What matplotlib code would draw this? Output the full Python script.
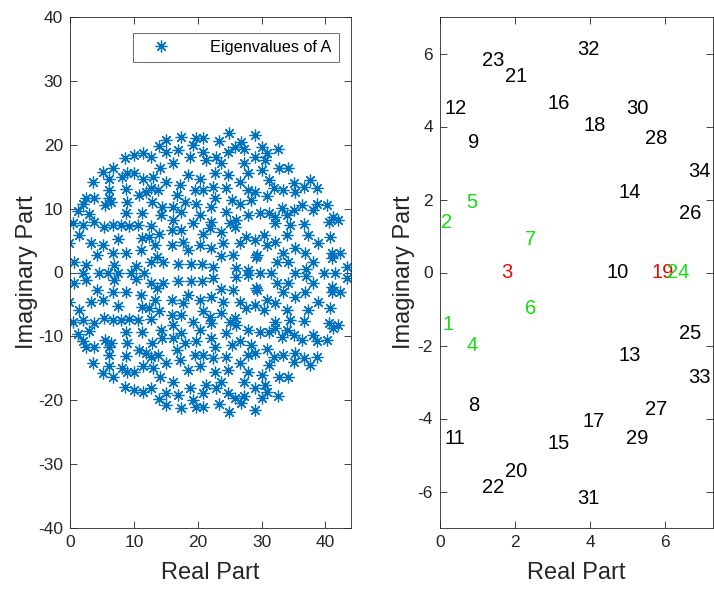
import numpy as np
import matplotlib
matplotlib.use("Agg")
import matplotlib.pyplot as plt

plt.rcParams['font.family'] = ['Liberation Sans', 'DejaVu Sans']
plt.rcParams['axes.unicode_minus'] = False

# eigenvalues of A, upper half plane; A is real so the
# lower half is the complex conjugate of these
eig_re_up = [13.9, 15.0, 8.65, 10.05, 11.45, 12.65, 5.1, 6.7, 9.0, 10.05,
             6.15, 8.2, 11.45, 13.0, 14.1, 3.55, 6.15, 8.75, 11.9, 12.65,
             13.85, 10.8, 6.05, 2.5, 3.8, 2.0, 5.5, 6.4, 9.0, 8.75,
             11.35, 12.9, 14.4, 1.2, 3.0, 14.2,
             0.4, 2.0, 3.8, 5.35, 6.7, 8.0, 9.3, 10.6, 12.65, 13.95,
             1.45, -0.1, 3.3, 5.1, 7.45, 11.35, 12.4, 13.3, 4.3, 6.7,
             8.75, 11.1, 0.7, 2.5, 6.9, 12.65, 13.7, 10.4,
             17.45, 19.8, 20.8, 24.9, 23.4, 26.8, 15.1, 16.9, 18.75, 19.3,
             20.8, 22.9, 24.7, 25.8, 27.3, 28.9, 16.15, 21.35, 23.7, 27.3,
             27.9, 15.1, 18.5, 20.3, 22.65, 24.7, 26.6, 17.2, 19.5, 20.8,
             22.4, 24.5, 27.9, 16.7, 22.65, 25.3, 26.6, 28.4, 16.15, 18.0,
             19.8, 22.1, 17.45, 20.3, 24.5, 27.9, 16.15, 22.1, 26.0,
             19.3, 25.0, 15.9, 17.45, 20.8, 21.9, 23.7, 25.8, 27.6, 15.9,
             17.7, 20.3, 22.1, 23.95, 26.6, 18.5, 23.7, 25.5, 14.6, 16.9,
             19.0, 20.6, 22.4, 26.0, 27.9, 29.2,
             29.0, 30.05, 30.8, 32.5, 30.6, 30.05, 32.65, 34.2, 31.1, 35.0,
             37.6, 29.0, 31.9, 33.4, 36.6, 38.6, 30.8, 35.3, 36.3, 38.6,
             40.2, 33.2, 35.0, 38.1, 29.8, 31.1, 32.1, 33.95, 41.25, 42.0,
             36.6, 40.5,
             32.1, 34.5, 37.3, 40.7, 30.3, 33.95, 29.0, 30.8, 32.1, 35.3,
             38.9, 33.4, 36.8, 41.0, 42.3, 29.3, 32.4, 34.2, 38.1, 41.0,
             37.0, 43.3]
eig_im_up = [19.8, 20.7, 18.0, 18.4, 18.65, 18.1, 15.8, 16.4, 15.5, 15.5,
             14.6, 14.9, 14.6, 15.0, 16.3, 14.1, 12.9, 13.1, 12.65, 13.2,
             12.9, 12.1, 11.6, 11.6, 11.7, 10.8, 10.6, 11.1, 11.1, 9.3,
             9.3, 11.0, 10.3, 9.6, 9.1, 9.0,
             7.7, 7.4, 7.95, 7.2, 7.4, 7.4, 7.3, 7.4, 7.3, 6.1,
             5.9, 4.6, 4.6, 4.3, 5.2, 5.35, 5.6, 4.3, 2.7, 3.0,
             3.0, 3.5, 1.7, 1.2, 1.2, 1.7, 2.5, 1.0,
             21.25, 21.0, 21.1, 21.8, 20.6, 20.5, 18.9, 19.2, 18.1, 20.0,
             18.9, 18.1, 18.9, 19.7, 19.4, 18.1, 17.1, 17.6, 17.2, 17.1,
             15.5, 14.2, 15.3, 14.7, 15.5, 15.3, 14.2, 13.7, 12.9, 12.9,
             13.4, 13.2, 12.9, 12.1, 11.6, 11.3, 10.8, 11.3, 10.3, 11.1,
             10.8, 10.3, 9.5, 9.0, 9.5, 9.0, 8.2, 7.95, 8.2,
             7.7, 7.7, 6.65, 6.65, 6.1, 6.9, 6.4, 7.2, 5.6, 4.3,
             4.8, 4.3, 3.8, 4.6, 4.6, 3.5, 2.6, 2.7, 1.7, 1.4,
             1.4, 1.4, 0.9, 0.65, 0.4, 2.5,
             21.5, 19.7, 18.65, 19.3, 17.6, 16.0, 16.3, 16.3, 14.5, 14.0,
             14.5, 12.65, 13.2, 12.9, 13.4, 13.2, 11.9, 12.65, 10.6, 10.8,
             10.6, 10.1, 9.8, 9.8, 9.3, 9.3, 8.7, 9.0, 8.7, 8.2,
             7.6, 7.95,
             7.7, 7.4, 5.9, 5.6, 5.9, 5.9, 5.1, 4.3, 4.7, 3.8,
             4.6, 3.0, 3.0, 3.0, 3.0, 2.7, 1.7, 1.7, 1.7, 2.2,
             0.5, 0.9]
# real eigenvalues
eig_real = [2.0, 4.6, 5.9, 7.45, 9.5, 11.6, 29.8, 31.4, 35.3, 39.7, 41.5]

# right panel: numbered eigenvalues
num_re = [0.07, 0.04, 1.64, 0.71, 0.71, 2.27, 2.27, 0.74, 0.74, 4.43,
          0.13, 0.13, 4.76, 4.77, 2.86, 2.86, 3.80, 3.82, 5.65, 1.73,
          1.73, 1.13, 1.13, 6.05, 6.37, 6.36, 5.47, 5.47, 4.95, 4.96,
          3.66, 3.67, 6.62, 6.62]
num_im = [-1.42, 1.38, 0.0, -2.0, 1.91, -0.99, 0.90, -3.64, 3.57, 0.0,
          -4.56, 4.48, -2.27, 2.18, -4.69, 4.62, -4.09, 4.03, 0.0, -5.44,
          5.38, -5.90, 5.82, 0.0, -1.68, 1.61, -3.75, 3.66, -4.56, 4.48,
          -6.20, 6.11, -2.89, 2.78]
green_ids = [1, 2, 4, 5, 6, 7, 24]
red_ids = [3, 19]

re = np.concatenate([eig_re_up, eig_re_up, eig_real])
im = np.concatenate([eig_im_up, -np.array(eig_im_up), np.zeros(len(eig_real))])

blue = '#0072BD'
axcol = '#262626'

fig = plt.figure(figsize=(7.14, 5.89), dpi=100)
ax1 = fig.add_axes([70/714, 61/589, 281/714, 511/589])
ax2 = fig.add_axes([440/714, 61/589, 273/714, 511/589])

ax1.plot(re, im, linestyle='none', marker=(8, 2, 0), color=blue,
         markersize=8.5, markeredgewidth=0.9, label='Eigenvalues of A')
ax1.set_xlim(0, 44)
ax1.set_ylim(-40, 40)
ax1.set_xticks([0, 10, 20, 30, 40])
ax1.set_yticks(range(-40, 41, 10))
leg = ax1.legend(loc='upper right', fontsize=11.7, fancybox=False,
                 edgecolor=axcol, handlelength=2.6, handletextpad=1.7,
                 borderpad=0.45, bbox_to_anchor=(0.985, 0.985))
leg.get_frame().set_linewidth(0.6)

for i in range(len(num_re)):
    n = i + 1
    c = 'black'
    if n in green_ids:
        c = '#11dd11'
    if n in red_ids:
        c = '#e01000'
    ax2.text(num_re[i], num_im[i], str(n), color=c, fontsize=14.5,
             ha='left', va='center')
ax2.set_xlim(0, 7.28)
ax2.set_ylim(-7, 7)
ax2.set_xticks([0, 2, 4, 6])
ax2.set_yticks([-6, -4, -2, 0, 2, 4, 6])

for ax, ypad in ((ax1, 0), (ax2, 2)):
    ax.set_xlabel('Real Part', fontsize=17, color=axcol, labelpad=9)
    ax.set_ylabel('Imaginary Part', fontsize=17, color=axcol, labelpad=ypad)
    ax.tick_params(direction='in', top=True, right=True, length=5,
                   width=0.6, labelsize=12.5, colors=axcol, pad=5)
    for s in ax.spines.values():
        s.set_linewidth(0.6)
        s.set_color(axcol)

plt.savefig('out.png', dpi=100)
